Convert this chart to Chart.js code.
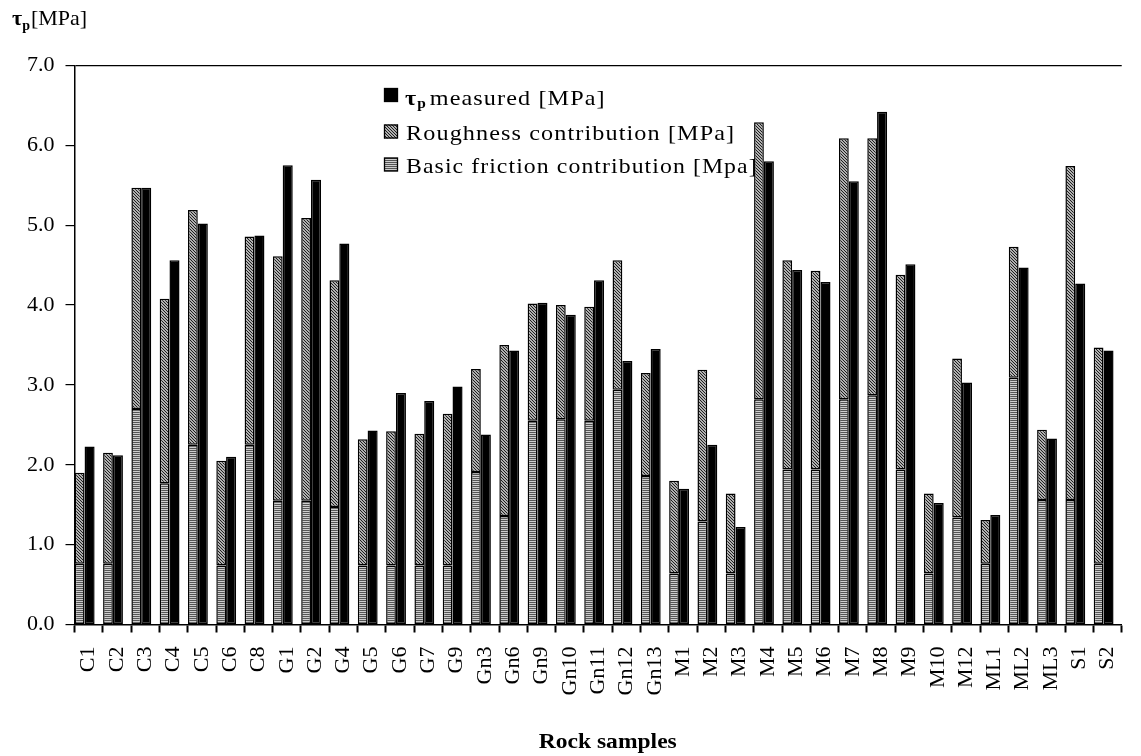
<!DOCTYPE html>
<html><head><meta charset="utf-8">
<script src="https://cdn.jsdelivr.net/npm/chart.js@4.4.1/dist/chart.umd.min.js"></script>
<style>
html,body{margin:0;padding:0;background:#fff;overflow:hidden;}
#wrap{position:relative;width:1148px;height:756px;}
</style></head><body>
<div id="wrap"><canvas id="c" width="1148" height="756"></canvas></div>
<script>
const categories = ['C1','C2','C3','C4','C5','C6','C8','G1','G2','G4','G5','G6','G7','G9','Gn3','Gn6','Gn9','Gn10','Gn11','Gn12','Gn13','M1','M2','M3','M4','M5','M6','M7','M8','M9','M10','M12','ML1','ML2','ML3','S1','S2'];
const basicFriction = [0.76,0.76,2.70,1.77,2.25,0.74,2.25,1.55,1.55,1.47,0.74,0.74,0.74,0.74,1.91,1.36,2.55,2.57,2.55,2.94,1.86,0.64,1.29,0.64,2.82,1.94,1.94,2.82,2.87,1.94,0.64,1.34,0.76,3.09,1.56,1.56,0.76];
const roughness = [1.14,1.39,2.77,2.31,2.94,1.31,2.61,3.06,3.54,2.84,1.58,1.68,1.65,1.90,1.29,2.14,1.47,1.43,1.43,1.62,1.29,1.16,1.90,1.00,3.47,2.62,2.49,3.27,3.22,2.44,1.00,1.99,0.55,1.64,0.88,4.18,2.71];
const measured = [2.23,2.12,5.47,4.56,5.02,2.10,4.87,5.75,5.57,4.77,2.43,2.90,2.80,2.98,2.38,3.43,4.03,3.88,4.31,3.30,3.45,1.70,2.25,1.22,5.80,4.44,4.29,5.55,6.42,4.51,1.52,3.03,1.37,4.47,2.33,4.27,3.43];
const yTickLabels = ['0.0','1.0','2.0','3.0','4.0','5.0','6.0','7.0'];
const seriesNames = ['Basic friction contribution [Mpa]','Roughness contribution [MPa]','measured [MPa]'];
const xTitle = 'Rock samples';

const cv = document.getElementById('c');
const ctxMain = cv.getContext('2d');
function makePattern(w, h, draw){
  const p = document.createElement('canvas'); p.width = w; p.height = h;
  const g = p.getContext('2d'); draw(g);
  return ctxMain.createPattern(p, 'repeat');
}
const basicPat = makePattern(2, 2, g => { g.fillStyle='#cdcdcd'; g.fillRect(0,0,2,2); g.fillStyle='#555555'; g.fillRect(0,0,2,1); });
const roughPat = makePattern(3, 3, g => { g.fillStyle='#b0b0b0'; g.fillRect(0,0,3,3); g.fillStyle='#1e1e1e'; for(let i=0;i<3;i++) g.fillRect(i,i,1,1); });

const predGroup = {stack:'pred', categoryPercentage:1.269, barPercentage:0.544};
const measGroup = {stack:'meas', categoryPercentage:0.1326, barPercentage:5.36};

function stretchText(ctx, text, x, y, font, sx, spacing){
  ctx.save(); ctx.font = font; ctx.letterSpacing = (spacing||0)+'px';
  ctx.translate(x, y); ctx.scale(sx, 1); ctx.fillText(text, 0, 0);
  const w = ctx.measureText(text).width * sx; ctx.restore(); return w;
}

const overlay = {
  id:'overlay',
  afterDraw(chart){
    const ctx = chart.ctx;
    ctx.save();
    ctx.fillStyle = '#000'; ctx.textBaseline = 'alphabetic'; ctx.textAlign = 'left';
    // y-axis title
    let x = 12;
    x += stretchText(ctx, 'τ', x, 25, 'bold 22px "Liberation Serif"', 1, 0);
    x += stretchText(ctx, 'p', x, 30, 'bold 14px "Liberation Serif"', 1, 0);
    stretchText(ctx, '[MPa]', x + 1, 25, '22px "Liberation Serif"', 1, 0);
    // x-axis title
    ctx.save(); ctx.font = 'bold 22px "Liberation Serif"';
    const tw = ctx.measureText(xTitle).width * 1.07; ctx.restore();
    const cx = (chart.chartArea.left + 1141) / 2;
    stretchText(ctx, xTitle, cx - tw/2, 748, 'bold 22px "Liberation Serif"', 1.07, 0);
    // legend
    const lx = 384, sw = 14;
    const rows = [
      {y:88, fill:'#000'},
      {y:124.5, fill:roughPat},
      {y:157.5, fill:basicPat}
    ];
    rows.forEach((r) => {
      ctx.fillStyle = r.fill; ctx.fillRect(lx, r.y, sw, sw);
      ctx.strokeStyle = '#000'; ctx.lineWidth = 1.3; ctx.strokeRect(lx+0.5, r.y+0.5, sw-1, sw-1);
    });
    ctx.fillStyle = '#000';
    const font = '22px "Liberation Serif"';
    let tx = 405;
    tx += stretchText(ctx, 'τ', tx, 105, 'bold 22px "Liberation Serif"', 1.1, 0);
    tx += stretchText(ctx, 'p', tx + 1, 108, 'bold 14px "Liberation Serif"', 1.1, 0);
    stretchText(ctx, seriesNames[2], tx + 5, 105, font, 1.1, 1);
    stretchText(ctx, seriesNames[1], 406, 140, font, 1.1, 1);
    stretchText(ctx, seriesNames[0], 406, 173, font, 1.08, 1);
    ctx.restore();
  }
};

new Chart(ctxMain, {
  type:'bar',
  data:{
    labels:categories,
    datasets:[
      Object.assign({label:seriesNames[0], data:basicFriction, backgroundColor:basicPat, borderColor:'#000', borderWidth:1.5, borderSkipped:false}, predGroup),
      Object.assign({label:seriesNames[1], data:roughness, backgroundColor:roughPat, borderColor:'#000', borderWidth:1.5, borderSkipped:false}, predGroup),
      Object.assign({label:'τp ' + seriesNames[2], data:measured, backgroundColor:'#000', borderColor:'#000', borderWidth:1.5, borderSkipped:false}, measGroup)
    ]
  },
  options:{
    responsive:false, animation:false, devicePixelRatio:1,
    layout:{padding:{top:65.5, right:1.6, bottom:0, left:0}},
    plugins:{legend:{display:false}, tooltip:{enabled:false}},
    scales:{
      x:{
        stacked:true, offset:true,
        grid:{display:true, drawOnChartArea:false, offset:true, tickLength:8, tickWidth:2, tickColor:'#000', color:'#000'},
        border:{display:true, color:'#000', width:1.5},
        ticks:{autoSkip:false, minRotation:90, maxRotation:90, padding:14, color:'#000', font:{family:'"Liberation Serif"', size:22}},
        afterFit(s){ s.height = 131.5; }
      },
      y:{
        stacked:true, min:0, max:7,
        ticks:{stepSize:1, padding:11, color:'#000', font:{family:'"Liberation Serif"', size:22}, callback:(v) => yTickLabels[Math.round(v)]},
        grid:{drawOnChartArea:true, color:(c) => (c.tick && c.tick.value === 7) ? '#000' : 'rgba(0,0,0,0)', tickColor:'#000', tickLength:9, lineWidth:1.2},
        border:{display:true, color:'#000', width:1.5},
        afterFit(s){ s.width = 74.5; }
      }
    }
  },
  plugins:[overlay]
});
</script>
</body></html>
